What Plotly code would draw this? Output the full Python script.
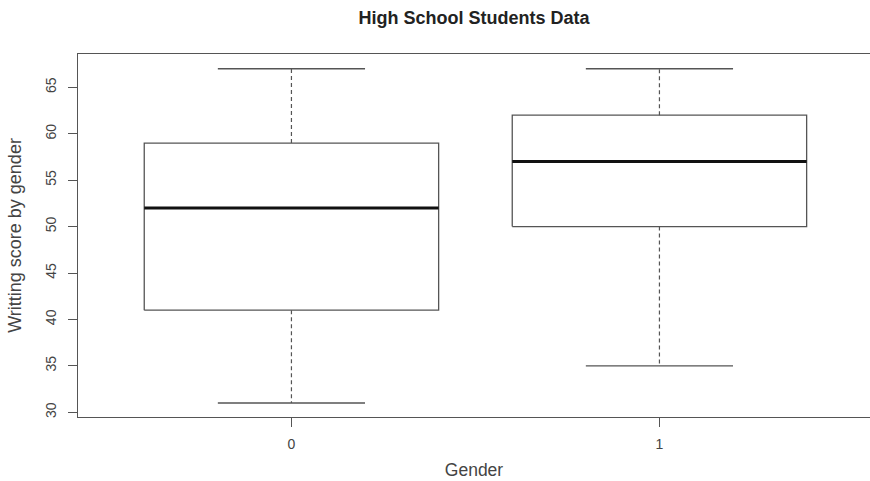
import plotly.graph_objects as go

categories = ["0", "1"]
lower_whisker = [31, 35]
q1 = [41, 50]
median = [52, 57]
q3 = [59, 62]
upper_whisker = [67, 67]
y_ticks = [30, 35, 40, 45, 50, 55, 60, 65]

LINE = "#555555"
TEXT = "#444444"
BOX_HALF = 0.4
CAP_HALF = 0.2

fig = go.Figure()
for i, cat in enumerate(categories):
    x = i + 1
    # box
    fig.add_trace(go.Scatter(
        x=[x - BOX_HALF, x + BOX_HALF, x + BOX_HALF, x - BOX_HALF, x - BOX_HALF],
        y=[q1[i], q1[i], q3[i], q3[i], q1[i]],
        mode="lines", line=dict(color=LINE, width=1.3), hoverinfo="skip"))
    # median
    fig.add_trace(go.Scatter(
        x=[x - BOX_HALF, x + BOX_HALF], y=[median[i], median[i]],
        mode="lines", line=dict(color="#111111", width=3), hoverinfo="skip"))
    # whiskers (dashed)
    fig.add_trace(go.Scatter(
        x=[x, x, None, x, x],
        y=[q3[i], upper_whisker[i], None, q1[i], lower_whisker[i]],
        mode="lines", line=dict(color=LINE, width=1.2, dash="4px,3px"), hoverinfo="skip"))
    # caps
    fig.add_trace(go.Scatter(
        x=[x - CAP_HALF, x + CAP_HALF, None, x - CAP_HALF, x + CAP_HALF],
        y=[upper_whisker[i], upper_whisker[i], None, lower_whisker[i], lower_whisker[i]],
        mode="lines", line=dict(color=LINE, width=1.3), hoverinfo="skip"))

fig.update_layout(
    width=870, height=481,
    margin=dict(l=78, r=0, t=54, b=64),
    plot_bgcolor="white", paper_bgcolor="white",
    showlegend=False,
    font=dict(family="Liberation Sans, Arial, sans-serif", color=TEXT),
    title=dict(text="<b>High School Students Data</b>", x=0.5, xref="paper",
               y=1 - 18 / 481, yanchor="middle",
               font=dict(size=18, color="#222222")),
)
fig.update_xaxes(
    range=[0.42, 0.42 + 792 / 368],
    tickvals=[1, 2], ticktext=categories,
    ticks="outside", ticklen=9, tickcolor=LINE, tickwidth=1.2,
    showline=True, linecolor=LINE, linewidth=1.3, mirror=True,
    showgrid=False, zeroline=False,
    tickfont=dict(size=14, color=TEXT), ticklabelstandoff=5,
    title=dict(text="Gender", font=dict(size=17.5, color=TEXT), standoff=12),
)
fig.update_yaxes(
    range=[29.49, 68.59],
    tickvals=y_ticks, ticktext=[str(v) for v in y_ticks],
    tickangle=-90,
    ticks="outside", ticklen=9, tickcolor=LINE, tickwidth=1.2,
    showline=True, linecolor=LINE, linewidth=1.3, mirror=False,
    showgrid=False, zeroline=False,
    tickfont=dict(size=14, color=TEXT), ticklabelstandoff=6,
    title=dict(text="Writting score by gender", font=dict(size=18, color=TEXT), standoff=16),
)

fig.write_html("out.html")
